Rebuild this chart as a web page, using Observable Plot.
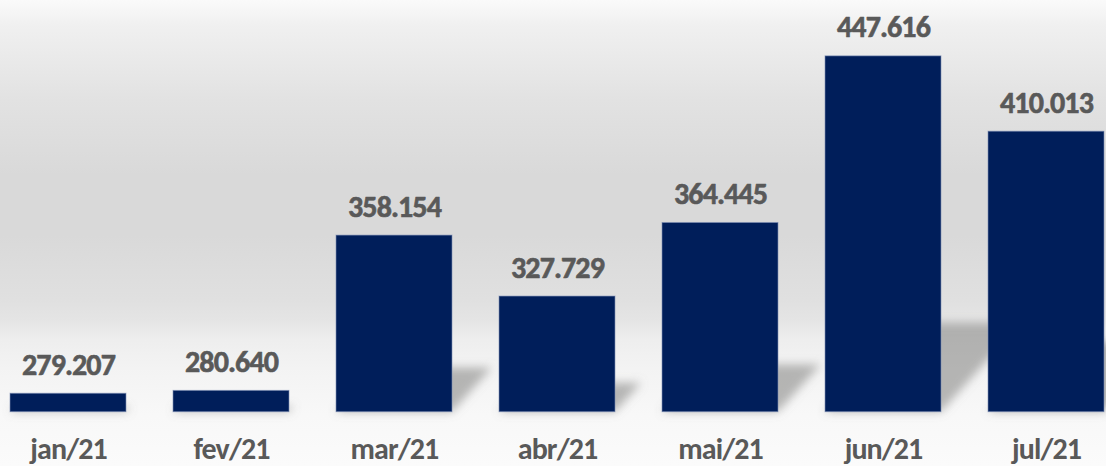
<!DOCTYPE html>
<html>
<head>
<meta charset="utf-8">
<script src="https://cdn.jsdelivr.net/npm/d3@7"></script>
<script src="https://cdn.jsdelivr.net/npm/@observablehq/plot@0.6"></script>
<style>
  html, body { margin: 0; padding: 0; }
  body {
    width: 1106px; height: 466px; overflow: hidden;
    background: linear-gradient(to bottom,
      #fafafa 0px, #f0f0f0 25px, #e2e2e2 100px, #d9d9d9 175px, #d9d9d9 235px,
      #e0e0e0 300px, #e5e5e5 322px, #eeeeee 340px, #f3f3f3 368px, #f8f8f8 415px, #fbfbfb 466px);
  }
  #chart svg { display: block; background: transparent; }
  #chart svg text { letter-spacing: -0.9px; }
</style>
</head>
<body>
<div id="chart"></div>
<script>
const months = ["jan/21", "fev/21", "mar/21", "abr/21", "mai/21", "jun/21", "jul/21"];
const values = [279207, 280640, 358154, 327729, 364445, 447616, 410013];
const baseValue = 270000;

const data = months.map((m, i) => ({month: m, value: values[i]}));
const fmt = d3.formatLocale({decimal: ",", thousands: ".", grouping: [3], currency: ["R$", ""]}).format(",d");
const font = "Carlito, Lato, 'Open Sans', sans-serif";
const gray = "#595959";
const baseY = 411.7;
const shadowColor = "#7f7f7e";

const chart = Plot.plot({
  width: 1106,
  height: 466,
  marginTop: 0,
  marginBottom: 54,
  marginLeft: 0,
  marginRight: 0,
  style: {fontFamily: font, background: "transparent", overflow: "visible"},
  x: {domain: months, range: [7, 1106], paddingInner: 0.29, paddingOuter: 0, label: null},
  y: {domain: [baseValue, 475500], range: [baseY, 0], axis: null},
  marks: [
    Plot.barY(data, {
      x: "month", y1: baseValue, y2: d => baseValue + (d.value - baseValue) * 0.25,
      fill: shadowColor, fillOpacity: 0.55
    }),
    Plot.barY(data, {
      x: "month", y1: baseValue, y2: "value",
      fill: "#001e5a", stroke: "#7f90b5", strokeWidth: 1, strokeOpacity: 0.6
    }),
    Plot.text(data, {
      x: "month", y: "value", text: d => fmt(d.value),
      lineAnchor: "bottom", dy: -19, fontSize: 30, fontWeight: "bold", fill: gray,
      stroke: gray, strokeWidth: 0.6
    }),
    Plot.axisX({
      tickSize: 0, tickPadding: 25, fontSize: 30, fontWeight: "bold", fill: gray,
      stroke: gray, strokeWidth: 0.6, label: null
    })
  ]
});

const NS = "http://www.w3.org/2000/svg";
const defs = document.createElementNS(NS, "defs");
const filter = document.createElementNS(NS, "filter");
filter.setAttribute("id", "shadowBlur");
filter.setAttribute("x", "-50%"); filter.setAttribute("y", "-50%");
filter.setAttribute("width", "200%"); filter.setAttribute("height", "200%");
const blur = document.createElementNS(NS, "feGaussianBlur");
blur.setAttribute("stdDeviation", "5");
filter.appendChild(blur);
defs.appendChild(filter);
chart.appendChild(defs);

const sg = [...chart.querySelectorAll("g")].find(g => (g.getAttribute("fill") || "").toLowerCase() === shadowColor);
if (sg) {
  const wrap = document.createElementNS(NS, "g");
  sg.parentNode.insertBefore(wrap, sg);
  const inner = document.createElementNS(NS, "g");
  inner.setAttribute("transform", `translate(0,${baseY}) skewX(-42) translate(0,${-baseY})`);
  wrap.appendChild(inner);
  inner.appendChild(sg);
  wrap.setAttribute("filter", "url(#shadowBlur)");
}

document.getElementById("chart").appendChild(chart);
</script>
</body>
</html>
